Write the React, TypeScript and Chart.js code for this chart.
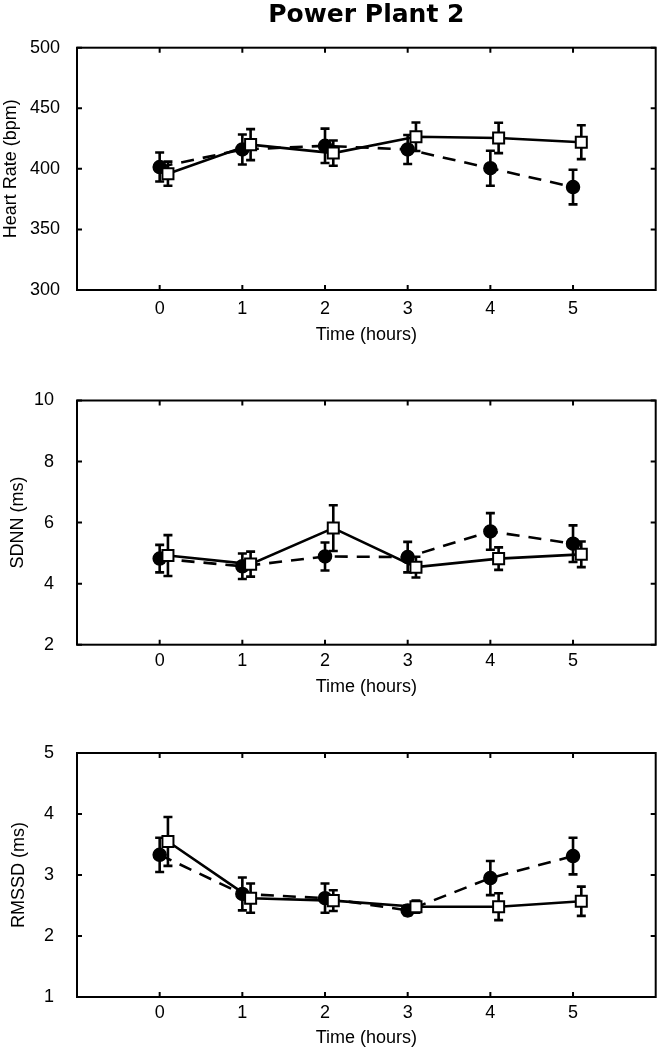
import React, { useEffect, useRef } from "react";
import { Chart, registerables } from "chart.js";

Chart.register(...registerables);

// ---------- data ----------
const HOURS = [0, 1, 2, 3, 4, 5];
const SQUARE_OFFSET = 0.1; // open squares are plotted slightly right of each hour

const HR_FILLED = [401.5, 416, 419, 416, 400.5, 385];
const HR_FILLED_SEM = [12, 12.4, 14.2, 12, 14.5, 14.3];
const HR_OPEN = [396, 420, 413, 426.5, 425.5, 422];
const HR_OPEN_SEM = [10, 12.8, 10.4, 11.8, 12.5, 14];

const SDNN_FILLED = [4.82, 4.57, 4.89, 4.87, 5.71, 5.31];
const SDNN_FILLED_SEM = [0.45, 0.42, 0.46, 0.5, 0.6, 0.6];
const SDNN_OPEN = [4.92, 4.64, 5.82, 4.54, 4.82, 4.96];
const SDNN_OPEN_SEM = [0.67, 0.41, 0.75, 0.34, 0.37, 0.42];

const RMSSD_FILLED = [3.33, 2.69, 2.62, 2.42, 2.95, 3.31];
const RMSSD_FILLED_SEM = [0.28, 0.27, 0.24, 0.08, 0.28, 0.3];
const RMSSD_OPEN = [3.55, 2.62, 2.58, 2.48, 2.48, 2.57];
const RMSSD_OPEN_SEM = [0.4, 0.24, 0.17, 0.1, 0.22, 0.24];

const TITLE = "Power Plant 2";
const X_LABEL = "Time (hours)";

const FONT_FAMILY = "'Liberation Sans', Arial, Helvetica, sans-serif";
const TITLE_FAMILY = "'DejaVu Sans', 'Liberation Sans', Arial, sans-serif";

// ---------- plugin: error bars + boxed frame with inward ticks ----------
const errorFramePlugin = {
  id: "errorFrame",
  beforeDatasetDraw(chart: any, args: any) {
    const ds = chart.data.datasets[args.index];
    const errs: number[] = ds.errors || [];
    const xs = chart.scales.x;
    const ys = chart.scales.y;
    const ctx = chart.ctx;
    ctx.save();
    ctx.strokeStyle = "#000";
    ctx.lineWidth = 2.6;
    ctx.lineCap = "butt";
    ds.data.forEach((p: any, i: number) => {
      const e = errs[i];
      if (e == null) return;
      const x = xs.getPixelForValue(p.x);
      const y1 = ys.getPixelForValue(p.y + e);
      const y2 = ys.getPixelForValue(p.y - e);
      ctx.beginPath();
      ctx.moveTo(x, y1);
      ctx.lineTo(x, y2);
      ctx.moveTo(x - 4.5, y1);
      ctx.lineTo(x + 4.5, y1);
      ctx.moveTo(x - 4.5, y2);
      ctx.lineTo(x + 4.5, y2);
      ctx.stroke();
    });
    ctx.restore();
  },
  afterDatasetsDraw(chart: any) {
    const { ctx, chartArea: a } = chart;
    const xs = chart.scales.x;
    const ys = chart.scales.y;
    ctx.save();
    ctx.strokeStyle = "#000";
    ctx.lineWidth = 2;
    ctx.strokeRect(a.left, a.top, a.right - a.left, a.bottom - a.top);
    const L = 5;
    ctx.beginPath();
    xs.ticks.forEach((t: any) => {
      const x = xs.getPixelForValue(t.value);
      ctx.moveTo(x, a.bottom);
      ctx.lineTo(x, a.bottom - L);
      ctx.moveTo(x, a.top);
      ctx.lineTo(x, a.top + L);
    });
    ys.ticks.forEach((t: any) => {
      const y = ys.getPixelForValue(t.value);
      ctx.moveTo(a.left, y);
      ctx.lineTo(a.left + L, y);
      ctx.moveTo(a.right, y);
      ctx.lineTo(a.right - L, y);
    });
    ctx.stroke();
    ctx.restore();
  },
};

type PanelSpec = {
  top: number;
  height: number;
  padTop: number;
  showTitle: boolean;
  yLabel: string;
  yMin: number;
  yMax: number;
  yStep: number;
  filled: number[];
  filledSem: number[];
  open: number[];
  openSem: number[];
  xAxisHeight: number;
  xTickPad: number;
  xTitlePad: number;
  yTickPad: number;
  yTitlePad: number;
};

const PANELS: PanelSpec[] = [
  {
    top: 0, height: 350, padTop: 0, showTitle: true,
    yLabel: "Heart Rate (bpm)", yMin: 300, yMax: 500, yStep: 50,
    filled: HR_FILLED, filledSem: HR_FILLED_SEM, open: HR_OPEN, openSem: HR_OPEN_SEM,
    xAxisHeight: 60, xTickPad: 8, xTitlePad: 4.2, yTickPad: 16.9, yTitlePad: 0,
  },
  {
    top: 350, height: 350, padTop: 50.5, showTitle: false,
    yLabel: "SDNN (ms)", yMin: 2, yMax: 10, yStep: 2,
    filled: SDNN_FILLED, filledSem: SDNN_FILLED_SEM, open: SDNN_OPEN, openSem: SDNN_OPEN_SEM,
    xAxisHeight: 55.3, xTickPad: 5.2, xTitlePad: 2.2, yTickPad: 22.9, yTitlePad: 7.2,
  },
  {
    top: 700, height: 349, padTop: 53, showTitle: false,
    yLabel: "RMSSD (ms)", yMin: 1, yMax: 5, yStep: 1,
    filled: RMSSD_FILLED, filledSem: RMSSD_FILLED_SEM, open: RMSSD_OPEN, openSem: RMSSD_OPEN_SEM,
    xAxisHeight: 52, xTickPad: 4.9, xTitlePad: 0, yTickPad: 22.9, yTitlePad: 8.2,
  },
];

function buildConfig(p: PanelSpec): any {
  const font = { family: FONT_FAMILY, size: 18 };
  return {
    type: "line",
    data: {
      datasets: [
        {
          label: "open",
          data: HOURS.map((h, i) => ({ x: h + SQUARE_OFFSET, y: p.open[i] })),
          errors: p.openSem,
          borderColor: "#000",
          borderWidth: 2.6,
          pointStyle: "rect",
          pointRadius: 7.8,
          pointBackgroundColor: "#fff",
          pointBorderColor: "#000",
          pointBorderWidth: 2,
          tension: 0,
          fill: false,
          order: 0,
        },
        {
          label: "filled",
          data: HOURS.map((h, i) => ({ x: h, y: p.filled[i] })),
          errors: p.filledSem,
          borderColor: "#000",
          borderWidth: 2.6,
          borderDash: [13, 9],
          pointStyle: "circle",
          pointRadius: 6.5,
          pointBackgroundColor: "#000",
          pointBorderColor: "#000",
          pointBorderWidth: 1.5,
          tension: 0,
          fill: false,
          order: 1,
        },
      ],
    },
    options: {
      responsive: false,
      animation: false,
      devicePixelRatio: 1,
      layout: { autoPadding: false, padding: { top: p.padTop, right: 1.3, left: 0, bottom: 0 } },
      plugins: {
        legend: { display: false },
        tooltip: { enabled: false },
        title: p.showTitle
          ? {
              display: true,
              text: TITLE,
              fullSize: false,
              color: "#000",
              font: { family: TITLE_FAMILY, size: 25, weight: "bold" },
              padding: { top: 0.8, bottom: 16.9 },
            }
          : { display: false },
      },
      scales: {
        x: {
          type: "linear",
          min: -1,
          max: 6,
          afterBuildTicks: (s: any) => {
            s.ticks = HOURS.map((v) => ({ value: v }));
          },
          afterFit: (s: any) => {
            s.height = p.xAxisHeight;
            s.paddingLeft = 0;
            s.paddingRight = 0;
          },
          grid: { display: false, drawTicks: false },
          border: { display: false },
          ticks: { font, color: "#000", padding: p.xTickPad, maxRotation: 0, autoSkip: false },
          title: {
            display: true,
            text: X_LABEL,
            color: "#000",
            font,
            padding: { top: 0, bottom: p.xTitlePad },
          },
        },
        y: {
          type: "linear",
          min: p.yMin,
          max: p.yMax,
          afterFit: (s: any) => {
            s.width = 77;
            s.paddingTop = 0;
            s.paddingBottom = 0;
          },
          grid: { display: false, drawTicks: false },
          border: { display: false },
          ticks: { font, color: "#000", padding: p.yTickPad, stepSize: p.yStep },
          title: {
            display: true,
            text: p.yLabel,
            color: "#000",
            font,
            padding: { top: p.yTitlePad, bottom: 0 },
          },
        },
      },
    },
    plugins: [errorFramePlugin],
  };
}

function Panel({ spec }: { spec: PanelSpec }) {
  const ref = useRef<HTMLCanvasElement | null>(null);
  useEffect(() => {
    if (!ref.current) return;
    const chart = new Chart(ref.current, buildConfig(spec));
    return () => chart.destroy();
  }, [spec]);
  return (
    <canvas
      ref={ref}
      width={657}
      height={spec.height}
      style={{ position: "absolute", left: 0, top: spec.top, width: 657, height: spec.height, display: "block" }}
    />
  );
}

export default function App() {
  return (
    <div style={{ position: "absolute", left: 0, top: 0, width: 657, height: 1049, background: "#fff" }}>
      {PANELS.map((p) => (
        <Panel key={p.yLabel} spec={p} />
      ))}
    </div>
  );
}
